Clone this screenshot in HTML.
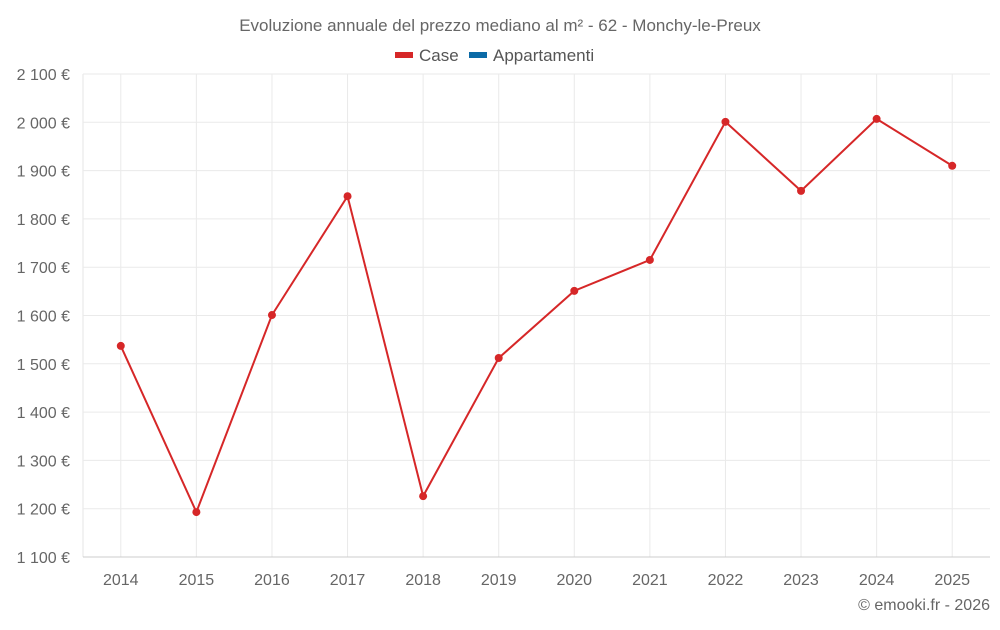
<!DOCTYPE html>
<html><head><meta charset="utf-8">
<style>
body{margin:0;background:#fff;font-family:"Liberation Sans",sans-serif;}
svg text{font-family:"Liberation Sans",sans-serif;}
</style></head>
<body>
<svg id="chart" width="1000" height="625">
<text x="500" y="31" text-anchor="middle" font-size="17" fill="#666">Evoluzione annuale del prezzo mediano al m² - 62 - Monchy-le-Preux</text>
<g>
<g><rect x="395" y="52" width="18" height="6" fill="#d62728"/><text x="419" y="61" font-size="17" fill="#555">Case</text></g>
<g><rect x="469" y="52" width="18" height="6" fill="#0b6aa6"/><text x="493" y="61" font-size="17" fill="#555">Appartamenti</text></g>
</g>
<g id="grid"></g>
<g id="yaxis"></g>
<g id="xaxis"></g>
<g id="series"></g>
<text x="990" y="610" text-anchor="end" font-size="16" fill="#666">© emooki.fr - 2026</text>
</svg>
<script>
const years = ["2014","2015","2016","2017","2018","2019","2020","2021","2022","2023","2024","2025"];
const caseValues = [1537,1193,1601,1847,1226,1512,1651,1715,2001,1858,2007,1910];
const yTicks = [1100,1200,1300,1400,1500,1600,1700,1800,1900,2000,2100];
const yTickLabels = ["1 100 €","1 200 €","1 300 €","1 400 €","1 500 €","1 600 €","1 700 €","1 800 €","1 900 €","2 000 €","2 100 €"];
const L=83,R=990,T=74,B=557,yMin=1100,yMax=2100;
const band=(R-L)/years.length;
const x=i=>L+band*(i+0.5);
const y=v=>B-(v-yMin)/(yMax-yMin)*(B-T);
const NS="http://www.w3.org/2000/svg";
function mk(tag,attrs,parent){const e=document.createElementNS(NS,tag);for(const k in attrs)e.setAttribute(k,attrs[k]);parent.appendChild(e);return e;}
const grid=document.getElementById('grid'),ya=document.getElementById('yaxis'),xa=document.getElementById('xaxis'),se=document.getElementById('series');
const lft=mk('line',{x1:L,x2:L,y1:T,y2:B,stroke:'#e6e6e6','stroke-width':1},grid);


years.forEach((yr,i)=>{
  const ln=mk('line',{x1:x(i),x2:x(i),y1:T,y2:B,stroke:'#eaeaea','stroke-width':1},grid);
  
  
  const tx=mk('text',{x:x(i),y:585,'text-anchor':'middle','font-size':16,fill:'#666'},xa);
  tx.textContent=yr;
  
  
});
yTicks.forEach((t,i)=>{
  const ln=mk('line',{x1:L,x2:R,y1:y(t),y2:y(t),stroke:i===0?'#ccc':'#eaeaea','stroke-width':1},grid);
  
  
  const tx=mk('text',{x:70,y:y(t)+6,'text-anchor':'end','font-size':16,fill:'#666'},ya);
  tx.textContent=yTickLabels[i];
  
  
});
const pl=mk('polyline',{points:caseValues.map((v,i)=>x(i)+','+y(v)).join(' '),fill:'none',stroke:'#d62728','stroke-width':2},se);


caseValues.forEach((v,i)=>{
  const c=mk('circle',{cx:x(i),cy:y(v),r:4,fill:'#d62728'},se);
  
  
});
</script>
</body></html>
